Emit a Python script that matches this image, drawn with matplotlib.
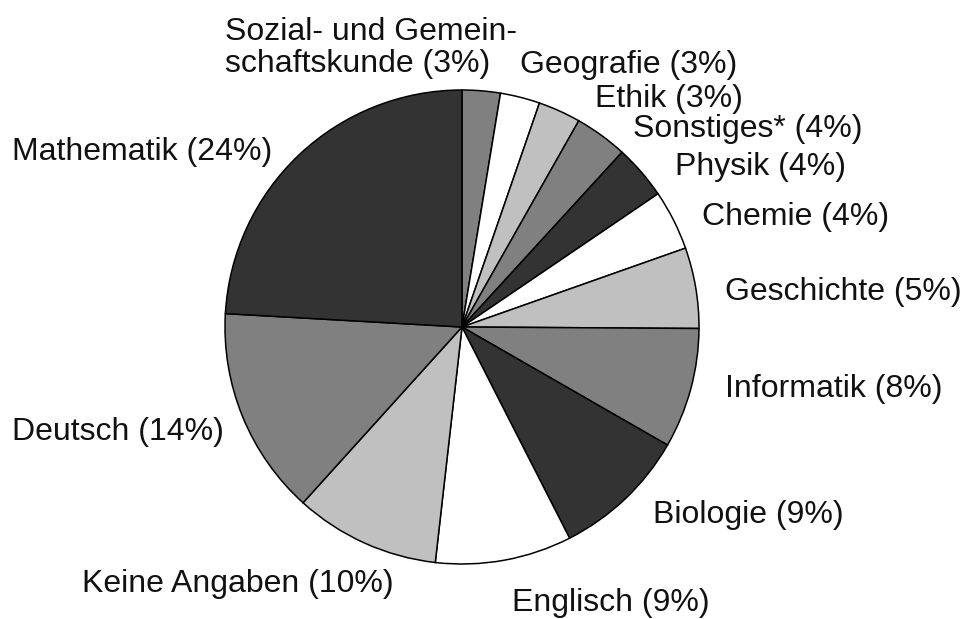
import matplotlib
matplotlib.use("Agg")
import matplotlib.pyplot as plt

# Anteile der Fächer (im Uhrzeigersinn ab 12 Uhr)
faecher = ["Sozial- und Gemein-\nschaftskunde", "Geografie", "Ethik", "Sonstiges*",
           "Physik", "Chemie", "Geschichte", "Informatik", "Biologie", "Englisch",
           "Keine Angaben", "Deutsch", "Mathematik"]
anteile = [2.6, 2.7, 2.9, 3.6, 3.7, 4.1, 5.5, 8.2, 9.2, 9.3, 9.9, 14.2, 24.1]
prozent_text = ["3%", "3%", "3%", "4%", "4%", "4%", "5%", "8%", "9%", "9%",
                "10%", "14%", "24%"]

# Graustufen der Segmente
dunkel, mittel, hell, weiss = "#333333", "#808080", "#c0c0c0", "#ffffff"
farben = [mittel, weiss, hell, mittel, dunkel, weiss, hell, mittel, dunkel,
          weiss, hell, mittel, dunkel]

# Position der Beschriftungen (linke Kante, Grundlinie) in Radius-Einheiten
label_pos = [(-1.00, 1.076), (0.245, 1.072), (0.561, 0.928), (0.722, 0.802),
             (0.899, 0.641), (1.013, 0.430), (1.110, 0.114), (1.110, -0.295),
             (0.806, -0.827), (0.211, -1.198), (-1.603, -1.118),
             (-1.899, -0.477), (-1.899, 0.705)]

plt.rcParams["font.family"] = ["Liberation Sans", "DejaVu Sans"]

fig = plt.figure(figsize=(9.63, 6.19), dpi=100)
ax = fig.add_axes([0, 0, 1, 1])

ax.pie(anteile, colors=farben, startangle=90, counterclock=False,
       radius=1, center=(0, 0),
       wedgeprops=dict(edgecolor="black", linewidth=1.1))

for name, p, (x, y) in zip(faecher, prozent_text, label_pos):
    ax.text(x, y, f"{name} ({p})", ha="left", va="baseline",
            fontsize=23, color="#111111", linespacing=1.08)

# Pixelgenaue Platzierung: Mittelpunkt (462, 327), Radius 237 px
ax.set_xlim(-462 / 237, (963 - 462) / 237)
ax.set_ylim((327 - 619) / 237, 327 / 237)
ax.set_aspect("equal")
ax.axis("off")

fig.savefig("out.png", dpi=100, facecolor="white")
